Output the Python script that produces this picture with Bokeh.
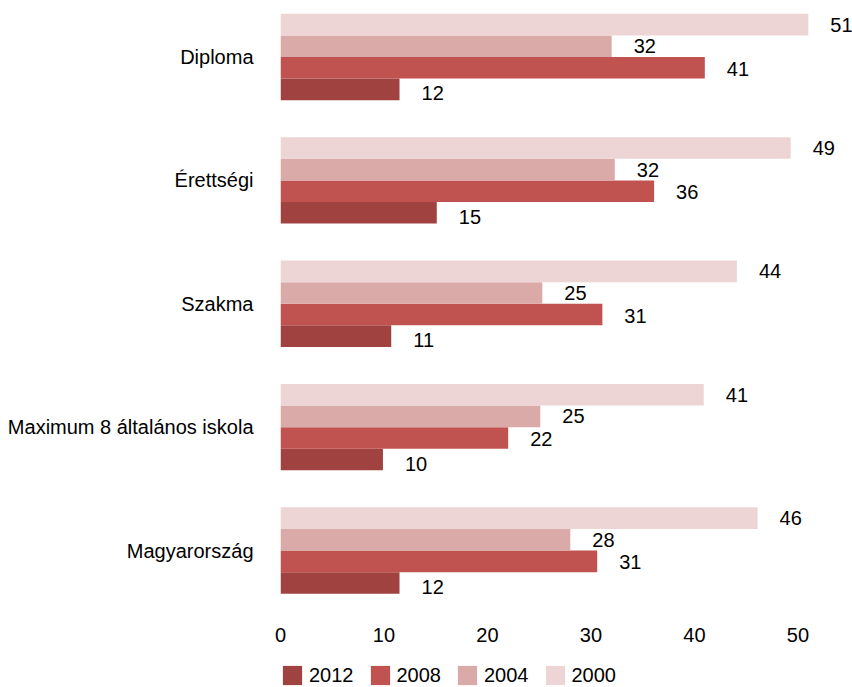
from bokeh.plotting import figure
from bokeh.models import ColumnDataSource, Range1d, FixedTicker, Legend, LegendItem
from bokeh.layouts import column
from bokeh.core.properties import value
from bokeh.embed import file_html
from bokeh.resources import INLINE

categories = ["Diploma", "Érettségi", "Szakma", "Maximum 8 általános iskola", "Magyarország"]
years = ["2012", "2008", "2004", "2000"]
v2012 = [11.5, 15.1, 10.7, 9.9, 11.5]
v2008 = [41.0, 36.1, 31.1, 22.0, 30.6]
v2004 = [32.0, 32.3, 25.3, 25.1, 28.0]
v2000 = [51.0, 49.3, 44.1, 40.9, 46.1]
labels2012 = ["12", "15", "11", "10", "12"]
labels2008 = ["41", "36", "31", "22", "31"]
labels2004 = ["32", "32", "25", "25", "28"]
labels2000 = ["51", "49", "44", "41", "46"]
x_ticks = [0, 10, 20, 30, 40, 50]

series = {
    "2012": (v2012, labels2012),
    "2008": (v2008, labels2008),
    "2004": (v2004, labels2004),
    "2000": (v2000, labels2000),
}
colors = {"2012": "#A04240", "2008": "#C0524F", "2004": "#DAAAA9", "2000": "#EDD5D5"}
offsets = {"2000": 0.2625, "2004": 0.0875, "2008": -0.0875, "2012": -0.2625}
label_dy = {"2000": 0, "2004": 0, "2008": 1, "2012": 4}

FONT = "Liberation Sans"
FS = "20px"

n = len(categories)
ypos = [n - 1 - i for i in range(n)]

p = figure(frame_width=572, frame_height=602, output_backend="svg", toolbar_location=None,
           x_range=Range1d(0, 55.27), y_range=Range1d(-0.486, 4.393),
           min_border_left=280, min_border_right=0, min_border_top=8, min_border_bottom=50)
p.outline_line_color = None
p.xgrid.grid_line_color = None
p.ygrid.grid_line_color = None
p.background_fill_color = "white"
p.border_fill_color = "white"

sources = {}
for yr in years:
    vals, labs = series[yr]
    src = ColumnDataSource(dict(y=[y + offsets[yr] for y in ypos], v=vals, lab=labs))
    sources[yr] = src
    p.hbar(y="y", right="v", left=0, height=0.175, source=src,
           fill_color=colors[yr], line_color=None)
    p.text(x="v", y="y", text="lab", source=src, x_offset=22, y_offset=label_dy[yr],
           text_align="left", text_baseline="middle", text_font=value(FONT),
           text_font_size=value(FS), text_color="black")

p.xaxis.ticker = FixedTicker(ticks=x_ticks)
p.yaxis.ticker = FixedTicker(ticks=ypos)
p.yaxis.major_label_overrides = {y: c for y, c in zip(ypos, categories)}
for ax in (p.xaxis[0], p.yaxis[0]):
    ax.axis_line_color = None
    ax.major_tick_line_color = None
    ax.minor_tick_line_color = None
    ax.major_tick_in = 0
    ax.major_tick_out = 0
    ax.major_label_text_font = FONT
    ax.major_label_text_font_size = FS
    ax.major_label_text_color = "black"
p.xaxis.major_label_standoff = 17
p.yaxis.major_label_standoff = 27

# legend strip below the chart (its own plot; the bars are out of its view)
lg = figure(width=852, height=27, output_backend="svg", toolbar_location=None,
            x_range=Range1d(0, 55.27), y_range=Range1d(100, 101),
            x_axis_type=None, y_axis_type=None,
            min_border_left=0, min_border_right=0, min_border_top=0, min_border_bottom=0)
lg.outline_line_color = None
lg.xgrid.grid_line_color = None
lg.ygrid.grid_line_color = None
lg.border_fill_color = "white"
items = []
for yr in years:
    r = lg.hbar(y="y", right="v", left=0, height=0.175, source=sources[yr],
                fill_color=colors[yr], line_color=None)
    items.append(LegendItem(label=yr, renderers=[r]))
legend = Legend(items=items, orientation="horizontal", location=(0, 0),
                glyph_width=24, glyph_height=24, label_standoff=5, spacing=14,
                padding=0, margin=0, border_line_color=None, background_fill_alpha=0,
                label_text_font=FONT, label_text_font_size=FS,
                label_text_color="black", label_height=24)
lg.add_layout(legend, "center")

layout = column(p, lg, spacing=0)
open("out.html", "w").write(file_html(layout, INLINE))
